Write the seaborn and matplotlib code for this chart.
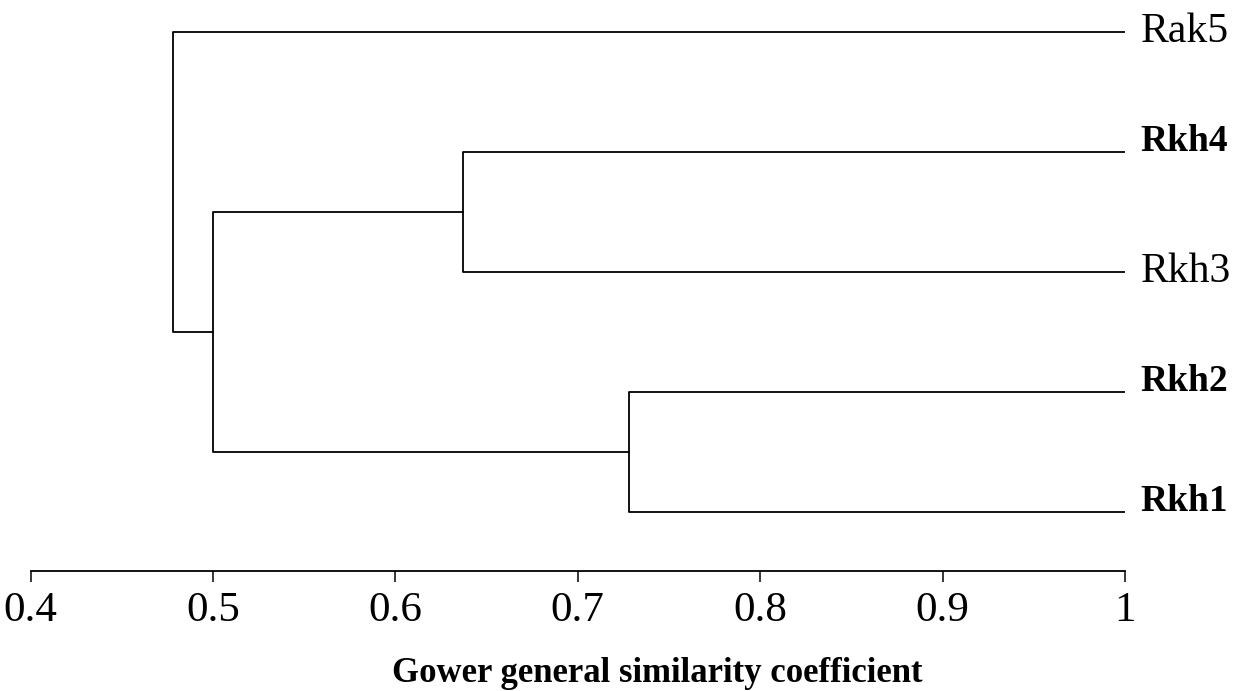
import pandas as pd
import matplotlib.pyplot as plt
import seaborn as sns

# leaf order top -> bottom
leaves = ["Rak5", "Rkh4", "Rkh3", "Rkh2", "Rkh1"]
leaf_bold = [False, True, False, True, True]

# merges: (left node, right node, similarity)
merge_a = ["Rkh4", "Rkh3"]
merge_b = ["Rkh2", "Rkh1"]
merge_sims = [0.637, 0.728, 0.500, 0.478]

ticks = [0.4, 0.5, 0.6, 0.7, 0.8, 0.9, 1.0]
tick_labels = ["0.4", "0.5", "0.6", "0.7", "0.8", "0.9", "1"]
xlabel = "Gower general similarity coefficient"


def build_segments():
    # node -> (x, y) where x is similarity, y is leaf position
    pos = {name: (1.0, i) for i, name in enumerate(leaves)}
    merges = [
        (merge_a[0], merge_a[1], merge_sims[0], "A"),
        (merge_b[0], merge_b[1], merge_sims[1], "B"),
        ("A", "B", merge_sims[2], "AB"),
        (leaves[0], "AB", merge_sims[3], "root"),
    ]
    rows = []
    for seg, (l, r, h, new) in enumerate(merges):
        x1, y1 = pos[l]
        x2, y2 = pos[r]
        for x, y in [(x1, y1), (h, y1), (h, y2), (x2, y2)]:
            rows.append({"seg": seg, "x": x, "y": y})
        pos[new] = (h, (y1 + y2) / 2)
    return pd.DataFrame(rows)


sns.set_style("white")
plt.rcParams['font.family'] = ['Liberation Serif', 'DejaVu Serif']
plt.rcParams['text.color'] = 'black'
plt.rcParams['axes.labelcolor'] = 'black'
plt.rcParams['xtick.color'] = 'black'

fig = plt.figure(figsize=(12.36, 6.91), dpi=100)
ax = fig.add_axes([0.0247, 0.1737, 0.8855, 0.797])

df = build_segments()
sns.lineplot(data=df, x="x", y="y", units="seg", estimator=None, sort=False,
             color="black", linewidth=1.3, ax=ax)

for i, (name, bold) in enumerate(zip(leaves, leaf_bold)):
    ax.annotate(name, xy=(1.0, i), xytext=(11, 8 if bold else 0),
                textcoords="offset points",
                va="center", ha="left", annotation_clip=False,
                fontsize=27 if bold else 30,
                fontweight="bold" if bold else "normal")

ax.set_xlim(0.4, 1.0)
ax.set_ylim(4.49, -0.1)
ax.set_xticks(ticks)
ax.set_xticklabels(tick_labels, fontsize=31)
ax.set_yticks([])
ax.set_ylabel("")
ax.set_xlabel(xlabel, fontsize=25, fontweight="bold")
ax.xaxis.set_label_coords(0.573, -0.156)
for side in ["top", "right", "left"]:
    ax.spines[side].set_visible(False)
ax.spines["bottom"].set_linewidth(1.3)
ax.spines["bottom"].set_color("black")
ax.tick_params(axis="x", direction="out", length=8, width=1.1, pad=7,
               bottom=True, colors="black")

fig.savefig("out.png", dpi=100, facecolor="white")
